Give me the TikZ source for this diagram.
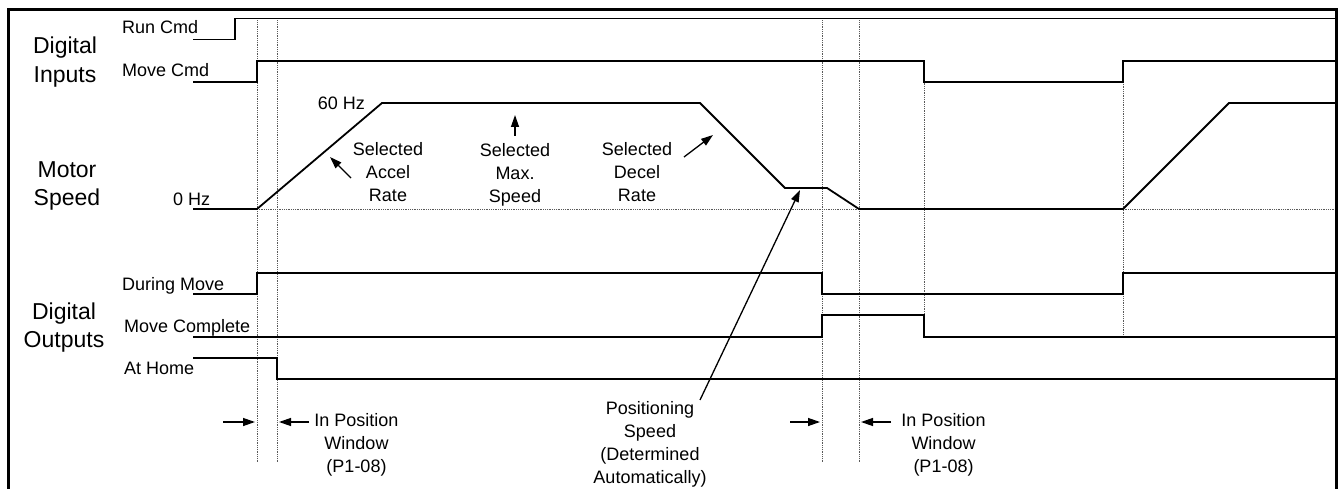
\documentclass[tikz,border=0pt]{standalone}
\usepackage{fontspec}
\setmainfont{Liberation Sans}
\usetikzlibrary{arrows.meta}
\begin{document}
\begin{tikzpicture}[x=1pt,y=-1pt,
  sig/.style={line width=1.8pt, line join=miter},
  gridln/.style={line width=0.9pt, dash pattern=on 1pt off 0.8pt, black!65},
  small/.style={font=\fontsize{18}{23}\selectfont, inner sep=0pt, align=center},
  big/.style={font=\fontsize{23}{28.5}\selectfont, inner sep=0pt, align=center},
  ptr/.style={line width=1.3pt, -{Triangle[length=12pt,width=8pt]}},
  frame/.style={line width=3pt}
]
\useasboundingbox (0,0) rectangle (1340,489);
% frame
\draw[frame] (8.8,492) -- (8.8,9.6) -- (1336.5,9.6) -- (1336.5,492);

% dotted reference lines
\draw[gridln] (257,18.5) -- (257,463);
\draw[gridln] (277,18.5) -- (277,463);
\draw[gridln] (822,18.5) -- (822,463);
\draw[gridln] (859,18.5) -- (859,463);
\draw[gridln] (924,61) -- (924,315);
\draw[gridln] (1123,82) -- (1123,337);
\draw[gridln] (257,209) -- (1335,209);

% signals
\draw[sig] (193,39.5) -| (235,18.5) -- (1335,18.5);
\draw[sig] (193,82) -| (257,61) -| (924,82) -| (1123,61) -- (1335,61);
\draw[sig] (193,209) -- (257,209) -- (382,103) -- (700,103) -- (785,188) -- (827,188) -- (859,209) -- (1123,209) -- (1229,103) -- (1335,103);
\draw[sig] (193,294) -| (257,273) -| (822,294) -| (1123,273) -- (1335,273);
\draw[sig] (193,337) -| (822,315) -| (924,337) -- (1335,337);
\draw[sig] (193,358) -| (277,379) -- (1335,379);

% group labels
\node[big] (din) at (65,62) {Digital\\Inputs};
\node[big] (msp) at (67,186) {Motor\\Speed};
\node[big] (dout) at (64,327.5) {Digital\\Outputs};

% signal labels
\node[small, anchor=base west] (runlbl) at (122,34) {Run Cmd};
\node[small, anchor=base west] (movelbl) at (122,77) {Move Cmd};
\node[small, anchor=base west] (zerolbl) at (173,205) {0 Hz};
\node[small, anchor=base east] (sixtylbl) at (365,110) {60 Hz};
\node[small, anchor=base west] (duringlbl) at (122,290) {During Move};
\node[small, anchor=base west] (completelbl) at (124,332) {Move Complete};
\node[small, anchor=base west] (homelbl) at (124,374) {At Home};

% annotations
\node[small] (accel) at (388,172.5) {Selected\\Accel\\Rate};
\node[small] (maxsp) at (515,174.5) {Selected\\Max.\\Speed};
\node[small] (decel) at (637,172.5) {Selected\\Decel\\Rate};
\node[small] (posspd) at (650,444.5) {Positioning\\Speed\\(Determined\\Automatically)};
\node[small] (inpos1) at (356.5,444.5) {In Position\\Window\\(P1-08)};
\node[small] (inpos2) at (943.5,444.5) {In Position\\Window\\(P1-08)};

% arrow end points
\coordinate (aS) at (351,178); \coordinate (aE) at (330,157);
\coordinate (mS) at (515,136); \coordinate (mE) at (515,115);
\coordinate (dS) at (684,157); \coordinate (dE) at (713,135);
\coordinate (pS) at (700,400); \coordinate (pE) at (800,190);
\coordinate (w1S) at (223,422); \coordinate (w1E) at (255,422);
\coordinate (w2S) at (309,422); \coordinate (w2E) at (279,422);
\coordinate (w3S) at (790,422); \coordinate (w3E) at (820,422);
\coordinate (w4S) at (891,422); \coordinate (w4E) at (861,422);

\draw[ptr] (aS) -- (aE);
\draw[ptr] (mS) -- (mE);
\draw[ptr] (dS) -- (dE);
\draw[ptr] (pS) -- (pE);
\draw[ptr] (w1S) -- (w1E);
\draw[ptr] (w2S) -- (w2E);
\draw[ptr] (w3S) -- (w3E);
\draw[ptr] (w4S) -- (w4E);
\end{tikzpicture}
\end{document}
